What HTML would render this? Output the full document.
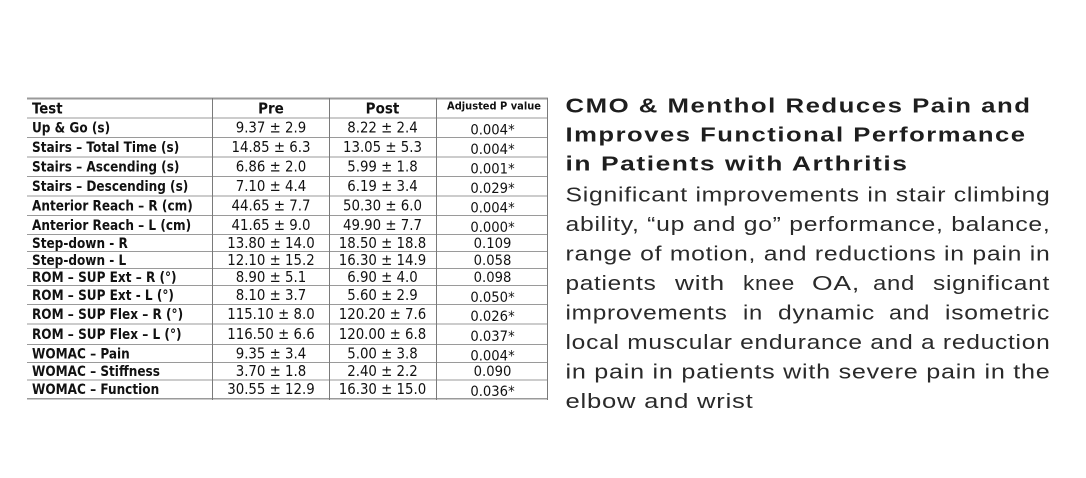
<!DOCTYPE html>
<html>
<head>
<meta charset="utf-8">
<style>
  html,body{margin:0;padding:0;background:#ffffff;}
  svg{display:block;}
</style>
</head>
<body>
<svg width="1086" height="478" viewBox="0 0 1086 478" xmlns="http://www.w3.org/2000/svg">
  <rect width="1086" height="478" fill="#ffffff"/>

  <!-- Table grid -->
  <g stroke="#9a9a9a" stroke-width="1" shape-rendering="crispEdges">
    <line x1="27" y1="98.5" x2="548" y2="98.5" stroke-width="1.6"/>
    <line x1="27" y1="118" x2="548" y2="118"/>
    <line x1="27" y1="137.3" x2="548" y2="137.3"/>
    <line x1="27" y1="157" x2="548" y2="157"/>
    <line x1="27" y1="176.3" x2="548" y2="176.3"/>
    <line x1="27" y1="196" x2="548" y2="196"/>
    <line x1="27" y1="215.3" x2="548" y2="215.3"/>
    <line x1="27" y1="234.7" x2="548" y2="234.7"/>
    <line x1="27" y1="251.7" x2="548" y2="251.7"/>
    <line x1="27" y1="268.3" x2="548" y2="268.3"/>
    <line x1="27" y1="285.7" x2="548" y2="285.7"/>
    <line x1="27" y1="304.3" x2="548" y2="304.3"/>
    <line x1="27" y1="324" x2="548" y2="324"/>
    <line x1="27" y1="344.3" x2="548" y2="344.3"/>
    <line x1="27" y1="362.7" x2="548" y2="362.7"/>
    <line x1="27" y1="380" x2="548" y2="380"/>
    <line x1="27" y1="398.8" x2="548" y2="398.8" stroke-width="1.4"/>
  </g>
  <g stroke="#7a7a7a" stroke-width="1" shape-rendering="crispEdges">
    <line x1="212.5" y1="98" x2="212.5" y2="400"/>
    <line x1="329.5" y1="98" x2="329.5" y2="400"/>
    <line x1="436.5" y1="98" x2="436.5" y2="400"/>
    <line x1="547.5" y1="98" x2="547.5" y2="400"/>
  </g>

  <!-- Header (scale 1.1) -->
  <g transform="scale(1,1.1)" font-family="'DejaVu Sans', 'Liberation Sans', sans-serif" font-weight="bold" fill="#111">
    <text x="32" y="103.4" font-size="13.3">Test</text>
    <text x="271" y="103.2" font-size="13.5" text-anchor="middle">Pre</text>
    <text x="382.5" y="103.2" font-size="13.5" text-anchor="middle">Post</text>
    <text x="494" y="99.4" font-size="9.9" text-anchor="middle">Adjusted P value</text>
  </g>

  <!-- Row labels (scale 1.17) -->
  <g transform="scale(1,1.17)" font-family="'DejaVu Sans', 'Liberation Sans', sans-serif" font-weight="bold" font-size="12.1" fill="#111">
    <text x="32" y="113.25">Up &amp; Go (s)</text>
    <text x="32" y="129.91">Stairs – Total Time (s)</text>
    <text x="32" y="146.58">Stairs – Ascending (s)</text>
    <text x="32" y="163.25">Stairs – Descending (s)</text>
    <text x="32" y="179.91">Anterior Reach – R (cm)</text>
    <text x="32" y="196.41">Anterior Reach – L (cm)</text>
    <text x="32" y="211.97">Step-down - R</text>
    <text x="32" y="226.32">Step-down - L</text>
    <text x="32" y="240.85">ROM – SUP Ext – R (°)</text>
    <text x="32" y="256.24">ROM – SUP Ext - L (°)</text>
    <text x="32" y="272.65">ROM – SUP Flex – R (°)</text>
    <text x="32" y="289.74">ROM – SUP Flex – L (°)</text>
    <text x="32" y="306.24">WOMAC – Pain</text>
    <text x="32" y="321.54">WOMAC – Stiffness</text>
    <text x="32" y="336.75">WOMAC – Function</text>
  </g>

  <!-- Numbers (scale 1.1) -->
  <g transform="scale(1,1.1)" font-family="'DejaVu Sans', 'Liberation Sans', sans-serif" font-size="13.35" fill="#111" text-anchor="middle">
    <text x="271" y="120.45">9.37 ± 2.9</text>
    <text x="271" y="138.18">14.85 ± 6.3</text>
    <text x="271" y="155.91">6.86 ± 2.0</text>
    <text x="271" y="173.64">7.10 ± 4.4</text>
    <text x="271" y="191.36">44.65 ± 7.7</text>
    <text x="271" y="208.91">41.65 ± 9.0</text>
    <text x="271" y="225.45">13.80 ± 14.0</text>
    <text x="271" y="240.73">12.10 ± 15.2</text>
    <text x="271" y="256.18">8.90 ± 5.1</text>
    <text x="271" y="272.55">8.10 ± 3.7</text>
    <text x="271" y="290">115.10 ± 8.0</text>
    <text x="271" y="308.18">116.50 ± 6.6</text>
    <text x="271" y="325.73">9.35 ± 3.4</text>
    <text x="271" y="342">3.70 ± 1.8</text>
    <text x="271" y="358.18">30.55 ± 12.9</text>

    <text x="382.5" y="120.45">8.22 ± 2.4</text>
    <text x="382.5" y="138.18">13.05 ± 5.3</text>
    <text x="382.5" y="155.91">5.99 ± 1.8</text>
    <text x="382.5" y="173.64">6.19 ± 3.4</text>
    <text x="382.5" y="191.36">50.30 ± 6.0</text>
    <text x="382.5" y="208.91">49.90 ± 7.7</text>
    <text x="382.5" y="225.45">18.50 ± 18.8</text>
    <text x="382.5" y="240.73">16.30 ± 14.9</text>
    <text x="382.5" y="256.18">6.90 ± 4.0</text>
    <text x="382.5" y="272.55">5.60 ± 2.9</text>
    <text x="382.5" y="290">120.20 ± 7.6</text>
    <text x="382.5" y="308.18">120.00 ± 6.8</text>
    <text x="382.5" y="325.73">5.00 ± 3.8</text>
    <text x="382.5" y="342">2.40 ± 2.2</text>
    <text x="382.5" y="358.18">16.30 ± 15.0</text>
  </g>

  <!-- P values -->
  <g transform="scale(1,1.1)" font-family="'DejaVu Sans', 'Liberation Sans', sans-serif" font-size="13.2" fill="#111" text-anchor="middle">
    <text x="492.5" y="122.27">0.004*</text>
    <text x="492.5" y="140">0.004*</text>
    <text x="492.5" y="157.73">0.001*</text>
    <text x="492.5" y="175.45">0.029*</text>
    <text x="492.5" y="193.18">0.004*</text>
    <text x="492.5" y="210.73">0.000*</text>
    <text x="492.5" y="225.45">0.109</text>
    <text x="492.5" y="240.73">0.058</text>
    <text x="492.5" y="256.18">0.098</text>
    <text x="492.5" y="274.36">0.050*</text>
    <text x="492.5" y="291.82">0.026*</text>
    <text x="492.5" y="310">0.037*</text>
    <text x="492.5" y="327.55">0.004*</text>
    <text x="492.5" y="342">0.090</text>
    <text x="492.5" y="360">0.036*</text>
  </g>

  <!-- Title -->
  <g font-family="'Liberation Sans', sans-serif" font-weight="bold" font-size="20.5" fill="#1e1e1e" letter-spacing="1.2">
    <text x="565.5" y="112.6" textLength="466" lengthAdjust="spacingAndGlyphs">CMO &amp; Menthol Reduces Pain and</text>
    <text x="565.5" y="141.6" textLength="461" lengthAdjust="spacingAndGlyphs">Improves Functional Performance</text>
    <text x="565.5" y="170.6" textLength="343" lengthAdjust="spacingAndGlyphs">in Patients with Arthritis</text>
  </g>

  <!-- Body -->
  <g font-family="'Liberation Sans', sans-serif" font-size="20" fill="#2a2a2a" letter-spacing="0.6">
    <text x="565.5" y="201.5" textLength="485" lengthAdjust="spacingAndGlyphs">Significant improvements in stair climbing</text>
    <text x="565.5" y="231" textLength="485" lengthAdjust="spacingAndGlyphs">ability, “up and go” performance, balance,</text>
    <text x="565.5" y="260.5" textLength="485" lengthAdjust="spacingAndGlyphs">range of motion, and reductions in pain in</text>

    <text x="565.5" y="290" textLength="91" lengthAdjust="spacingAndGlyphs">patients</text>
    <text x="675" y="290" textLength="50" lengthAdjust="spacingAndGlyphs">with</text>
    <text x="743" y="290" textLength="52" lengthAdjust="spacingAndGlyphs">knee</text>
    <text x="812" y="290" textLength="48" lengthAdjust="spacingAndGlyphs">OA,</text>
    <text x="873" y="290" textLength="42" lengthAdjust="spacingAndGlyphs">and</text>
    <text x="933" y="290" textLength="117" lengthAdjust="spacingAndGlyphs">significant</text>

    <text x="565.5" y="319.5" textLength="162" lengthAdjust="spacingAndGlyphs">improvements</text>
    <text x="743" y="319.5" textLength="20" lengthAdjust="spacingAndGlyphs">in</text>
    <text x="778" y="319.5" textLength="97" lengthAdjust="spacingAndGlyphs">dynamic</text>
    <text x="889" y="319.5" textLength="41" lengthAdjust="spacingAndGlyphs">and</text>
    <text x="945" y="319.5" textLength="105" lengthAdjust="spacingAndGlyphs">isometric</text>

    <text x="565.5" y="349" textLength="485" lengthAdjust="spacingAndGlyphs">local muscular endurance and a reduction</text>
    <text x="565.5" y="378.5" textLength="485" lengthAdjust="spacingAndGlyphs">in pain in patients with severe pain in the</text>
    <text x="565.5" y="408" textLength="188" lengthAdjust="spacingAndGlyphs">elbow and wrist</text>
  </g>
</svg>
</body>
</html>
